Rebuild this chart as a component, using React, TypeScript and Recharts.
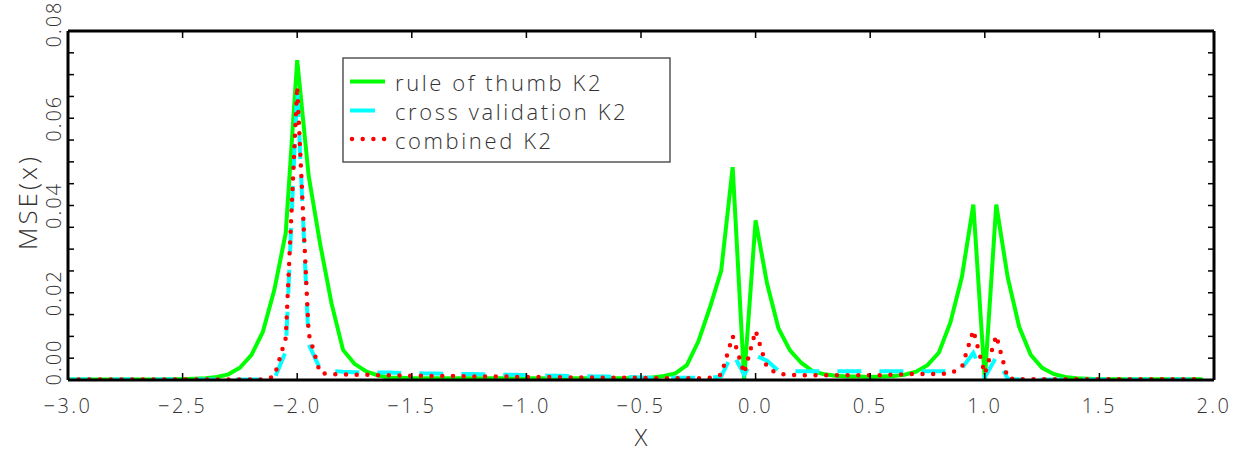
import { LineChart, Line, XAxis, YAxis, Legend, Label } from "recharts"

// x grid, step 0.05 (one row = 0.5 of x)
const X_VALUES = [
  -3.0, -2.95, -2.9, -2.85, -2.8, -2.75, -2.7, -2.65, -2.6, -2.55,
  -2.5, -2.45, -2.4, -2.35, -2.3, -2.25, -2.2, -2.15, -2.1, -2.05,
  -2.0, -1.95, -1.9, -1.85, -1.8, -1.75, -1.7, -1.65, -1.6, -1.55,
  -1.5, -1.45, -1.4, -1.35, -1.3, -1.25, -1.2, -1.15, -1.1, -1.05,
  -1.0, -0.95, -0.9, -0.85, -0.8, -0.75, -0.7, -0.65, -0.6, -0.55,
  -0.5, -0.45, -0.4, -0.35, -0.3, -0.25, -0.2, -0.15, -0.1, -0.05,
  0.0, 0.05, 0.1, 0.15, 0.2, 0.25, 0.3, 0.35, 0.4, 0.45,
  0.5, 0.55, 0.6, 0.65, 0.7, 0.75, 0.8, 0.85, 0.9, 0.95,
  1.0, 1.05, 1.1, 1.15, 1.2, 1.25, 1.3, 1.35, 1.4, 1.45,
  1.5, 1.55, 1.6, 1.65, 1.7, 1.75, 1.8, 1.85, 1.9, 1.95,
]

const RULE_OF_THUMB = [
  0.0001, 0.0001, 0.0001, 0.0001, 0.0001, 0.0001, 0.0001, 0.0001, 0.0001, 0.0002,
  0.0002, 0.0003, 0.0004, 0.0007, 0.0013, 0.0028, 0.0057, 0.011, 0.0206, 0.0337,
  0.0733, 0.0468, 0.0312, 0.0175, 0.0069, 0.0037, 0.002, 0.0011, 0.0006, 0.0005,
  0.0004, 0.0004, 0.0004, 0.0004, 0.0004, 0.0004, 0.0004, 0.0004, 0.0004, 0.0004,
  0.0004, 0.0004, 0.0004, 0.0004, 0.0004, 0.0004, 0.0004, 0.0004, 0.0004, 0.0004,
  0.0004, 0.0006, 0.0009, 0.0015, 0.0034, 0.0088, 0.0165, 0.0251, 0.0488, 0.0002,
  0.0366, 0.0221, 0.0118, 0.0068, 0.0039, 0.002, 0.0013, 0.001, 0.0008, 0.0008,
  0.0007, 0.0008, 0.0009, 0.0012, 0.0019, 0.0034, 0.0063, 0.0132, 0.0236, 0.0402,
  0.0001, 0.0402, 0.0235, 0.0122, 0.0058, 0.0028, 0.0014, 0.0007, 0.0004, 0.0003,
  0.0002, 0.0002, 0.0002, 0.0002, 0.0002, 0.0002, 0.0002, 0.0002, 0.0002, 0.0002,
]

const CROSS_VALIDATION = [
  0.0001, 0.0001, 0.0001, 0.0001, 0.0001, 0.0001, 0.0001, 0.0001, 0.0001, 0.0001,
  0.0001, 0.0001, 0.0001, 0.0001, 0.0001, 0.0001, 0.0001, 0.0001, 0.0002, 0.0065,
  0.0668, 0.0082, 0.0025, 0.0021, 0.0019, 0.0018, 0.0018, 0.0017, 0.0017, 0.0016,
  0.0016, 0.0015, 0.0015, 0.0014, 0.0014, 0.0014, 0.0013, 0.0013, 0.0012, 0.0012,
  0.0011, 0.0011, 0.001, 0.001, 0.0009, 0.0009, 0.0008, 0.0008, 0.0007, 0.0007,
  0.0006, 0.0005, 0.0005, 0.0005, 0.0005, 0.0005, 0.0005, 0.0008, 0.0062, 0.0012,
  0.0056, 0.0044, 0.0021, 0.002, 0.002, 0.002, 0.002, 0.002, 0.002, 0.002,
  0.002, 0.002, 0.002, 0.002, 0.002, 0.002, 0.002, 0.0021, 0.0027, 0.0062,
  0.0006, 0.0053, 0.0003, 0.0001, 0.0001, 0.0001, 0.0001, 0.0001, 0.0001, 0.0001,
  0.0001, 0.0001, 0.0001, 0.0001, 0.0001, 0.0001, 0.0001, 0.0001, 0.0001, 0.0001,
]

const COMBINED = [
  0.0001, 0.0001, 0.0001, 0.0001, 0.0001, 0.0001, 0.0001, 0.0001, 0.0001, 0.0001,
  0.0001, 0.0001, 0.0001, 0.0001, 0.0001, 0.0001, 0.0001, 0.0001, 0.0008, 0.0096,
  0.0673, 0.0106, 0.0016, 0.0013, 0.0013, 0.0012, 0.0012, 0.0011, 0.0011, 0.001,
  0.001, 0.001, 0.0009, 0.0009, 0.0009, 0.0008, 0.0008, 0.0008, 0.0008, 0.0007,
  0.0007, 0.0007, 0.0007, 0.0006, 0.0006, 0.0006, 0.0006, 0.0005, 0.0005, 0.0005,
  0.0005, 0.0004, 0.0004, 0.0004, 0.0004, 0.0004, 0.0005, 0.0012, 0.0101, 0.0015,
  0.0113, 0.0028, 0.0014, 0.0012, 0.0011, 0.0011, 0.0011, 0.0011, 0.0011, 0.0011,
  0.0011, 0.0011, 0.0012, 0.0013, 0.0014, 0.0014, 0.0014, 0.0015, 0.0029, 0.0114,
  0.0014, 0.0102, 0.0003, 0.0002, 0.0002, 0.0002, 0.0002, 0.0002, 0.0002, 0.0002,
  0.0002, 0.0002, 0.0002, 0.0002, 0.0002, 0.0002, 0.0002, 0.0002, 0.0002, 0.0002,
]

const X_TICKS = [-3.0, -2.5, -2.0, -1.5, -1.0, -0.5, 0.0, 0.5, 1.0, 1.5, 2.0]
const Y_TICKS = [
  0, 0.005, 0.01, 0.015, 0.02, 0.025, 0.03, 0.035, 0.04,
  0.045, 0.05, 0.055, 0.06, 0.065, 0.07, 0.075, 0.08,
]
const Y_LABELS = [0, 0.02, 0.04, 0.06, 0.08]

const SERIES = [
  { key: "rot", name: "rule of thumb K2", color: "#00ff00" },
  { key: "cv", name: "cross validation K2", color: "#00ffff" },
  { key: "comb", name: "combined K2", color: "#ff0000" },
]

const data = X_VALUES.map((x, i) => ({
  x,
  rot: RULE_OF_THUMB[i],
  cv: CROSS_VALIDATION[i],
  comb: COMBINED[i],
}))

const FONT = "'Open Sans', 'DejaVu Sans', sans-serif"
const TEXT = "#333"

const fmtX = (v: number) => (v < 0 ? "\u2212" : "") + Math.abs(v).toFixed(1)

function BottomTick(props: any) {
  const { x, y, payload } = props
  return (
    <g>
      <line x1={x} y1={y} x2={x} y2={y - 7} stroke="#000" strokeWidth={1.5} />
      <text x={x} y={y + 25} textAnchor="middle" dominantBaseline="central"
        fontFamily={FONT} fontWeight={300} fontSize={20} letterSpacing={2.5} fill={TEXT}>
        {fmtX(payload.value)}
      </text>
    </g>
  )
}

function TopTick(props: any) {
  const { x, y } = props
  return <line x1={x} y1={y} x2={x} y2={y + 7} stroke="#000" strokeWidth={1.5} />
}

function LeftTick(props: any) {
  const { x, y, payload } = props
  const v = payload.value
  const labelled = Y_LABELS.some((l) => Math.abs(l - v) < 1e-9)
  // end labels sit a little inside the frame in the original
  const shift = v === 0 ? -18 : v >= 0.08 - 1e-9 ? -7 : 0
  const ly = y + shift
  return (
    <g>
      <line x1={x} y1={y} x2={x + 6} y2={y} stroke="#000" strokeWidth={1.5} />
      {labelled && (
        <text x={53} y={ly} transform={`rotate(-90 53 ${ly})`} textAnchor="middle"
          dominantBaseline="central" fontFamily={FONT} fontWeight={300} fontSize={20}
          letterSpacing={2} fill={TEXT}>
          {v.toFixed(2)}
        </text>
      )}
    </g>
  )
}

function RightTick(props: any) {
  const { x, y } = props
  return <line x1={x} y1={y} x2={x - 6} y2={y} stroke="#000" strokeWidth={1.5} />
}

function LegendBox() {
  return (
    <svg width={329} height={106} style={{ display: "block" }}>
      <rect x={1} y={1} width={327} height={104} fill="#fff" stroke="#555" strokeWidth={1.5} />
      <line x1={8} y1={24.5} x2={43} y2={24.5} stroke={SERIES[0].color} strokeWidth={4} />
      <line x1={8} y1={53.5} x2={33} y2={53.5} stroke={SERIES[1].color} strokeWidth={4} />
      <line x1={10} y1={82} x2={44} y2={82} stroke={SERIES[2].color} strokeWidth={4.5}
        strokeDasharray="0 10.7" strokeLinecap="round" />
      {SERIES.map((s, i) => (
        <text key={s.key} x={53} y={25 + i * 29} dominantBaseline="central"
          fontFamily={FONT} fontWeight={300} fontSize={22} letterSpacing={2.6} fill={TEXT}>
          {s.name}
        </text>
      ))}
    </svg>
  )
}

export default function App() {
  return (
    <div style={{ position: "absolute", left: 0, top: 0, width: 1242, height: 451, background: "#fff" }}>
      <LineChart width={1242} height={451} data={data}
        margin={{ top: 0, right: 0, bottom: 0, left: 8 }}>
        <XAxis xAxisId="bottom" type="number" dataKey="x" domain={[-3, 2]} ticks={X_TICKS}
          allowDataOverflow height={71} tickSize={0} tickMargin={0} tickLine={false}
          axisLine={{ stroke: "#000", strokeWidth: 3 }} tick={<BottomTick />} interval={0}>
          <Label content={() => (
            <text x={641} y={436} textAnchor="middle" dominantBaseline="central"
              fontFamily={FONT} fontWeight={300} fontSize={24} fill={TEXT}>X</text>
          )} />
        </XAxis>
        <XAxis xAxisId="top" orientation="top" type="number" dataKey="x" domain={[-3, 2]}
          ticks={X_TICKS} allowDataOverflow height={31} tickSize={0} tickMargin={0}
          tickLine={false} axisLine={{ stroke: "#000", strokeWidth: 3 }} tick={<TopTick />} interval={0} />
        <YAxis yAxisId="left" type="number" domain={[0, 0.08]} ticks={Y_TICKS} allowDataOverflow
          width={60} tickSize={0} tickMargin={0} tickLine={false} interval={0}
          axisLine={{ stroke: "#000", strokeWidth: 3 }} tick={<LeftTick />}>
          <Label content={() => (
            <text x={27} y={202} transform="rotate(-90 27 202)" textAnchor="middle"
              dominantBaseline="central" fontFamily={FONT} fontWeight={300} fontSize={26}
              letterSpacing={3} fill={TEXT}>MSE(x)</text>
          )} />
        </YAxis>
        <YAxis yAxisId="right" orientation="right" type="number" domain={[0, 0.08]} ticks={Y_TICKS}
          allowDataOverflow width={28} tickSize={0} tickMargin={0} tickLine={false} interval={0}
          axisLine={{ stroke: "#000", strokeWidth: 3 }} tick={<RightTick />} />
        <Legend layout="vertical" align="center" verticalAlign="middle"
          wrapperStyle={{ left: 342, top: 57, width: 329 }} content={() => <LegendBox />} />
        <Line xAxisId="bottom" yAxisId="left" type="linear" dataKey="rot" name={SERIES[0].name}
          stroke={SERIES[0].color} strokeWidth={4} dot={false} isAnimationActive={false} />
        <Line xAxisId="bottom" yAxisId="left" type="linear" dataKey="cv" name={SERIES[1].name}
          stroke={SERIES[1].color} strokeWidth={4} strokeDasharray="24 18" dot={false}
          isAnimationActive={false} />
        <Line xAxisId="bottom" yAxisId="left" type="linear" dataKey="comb" name={SERIES[2].name}
          stroke={SERIES[2].color} strokeWidth={4.5} strokeDasharray="0 10.7" strokeLinecap="round"
          dot={false} isAnimationActive={false} />
      </LineChart>
    </div>
  )
}
